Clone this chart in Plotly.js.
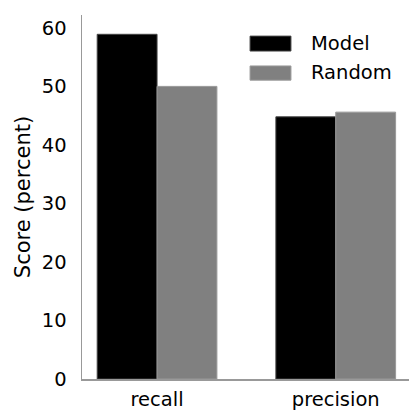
<!DOCTYPE html>
<html>
<head>
<meta charset="utf-8">
<script src="https://cdn.plot.ly/plotly-3.0.1.min.js"></script>
<style>html,body{margin:0;padding:0;background:#fff;}</style>
</head>
<body>
<div id="chart" style="width:409px;height:412px;"></div>
<script>
const categories = ["recall", "precision"];
const seriesNames = ["Model", "Random"];
const modelValues = [58.9, 44.8];
const randomValues = [50.0, 45.6];
const yTicks = [0, 10, 20, 30, 40, 50, 60];

const font = {family: "DejaVu Sans", size: 19.5, color: "#000"};
const titleFont = {family: "DejaVu Sans", size: 21, color: "#000"};

const traces = [
  {type: "bar", name: seriesNames[0], x: categories, y: modelValues,
   marker: {color: "#000000", line: {color: "#444", width: 1}}},
  {type: "bar", name: seriesNames[1], x: categories, y: randomValues,
   marker: {color: "#808080", line: {color: "#999", width: 1}}}
];

const layout = {
  width: 409, height: 412,
  margin: {l: 82, r: 0, t: 15, b: 33},
  paper_bgcolor: "#fff", plot_bgcolor: "#fff",
  barmode: "group", bargap: 0.33, bargroupgap: 0,
  showlegend: false,
  font: font,
  xaxis: {range: [-0.42, 1.41], showline: true, linecolor: "#999", linewidth: 1.5,
          ticks: "", showgrid: false, zeroline: false, tickfont: font, ticklabelstandoff: 2},
  yaxis: {range: [0, 62.2], tickvals: yTicks, showline: true, linecolor: "#999", linewidth: 1.5,
          ticks: "", showgrid: false, zeroline: false, tickfont: font, ticklabelstandoff: 10,
          title: {text: "Score (percent)", font: titleFont, standoff: 5}},
  shapes: [
    {type: "rect", xref: "paper", yref: "paper", x0: 0.514, x1: 0.639, y0: 0.901, y1: 0.942,
     fillcolor: "#000", line: {color: "#444", width: 1}},
    {type: "rect", xref: "paper", yref: "paper", x0: 0.514, x1: 0.639, y0: 0.821, y1: 0.860,
     fillcolor: "#808080", line: {color: "#999", width: 1}}
  ],
  annotations: [
    {xref: "paper", yref: "paper", x: 0.694, y: 0.923, xanchor: "left", yanchor: "middle",
     text: seriesNames[0], showarrow: false, font: font},
    {xref: "paper", yref: "paper", x: 0.694, y: 0.841, xanchor: "left", yanchor: "middle",
     text: seriesNames[1], showarrow: false, font: font}
  ]
};

Plotly.newPlot("chart", traces, layout, {displayModeBar: false, staticPlot: true});
</script>
</body>
</html>
